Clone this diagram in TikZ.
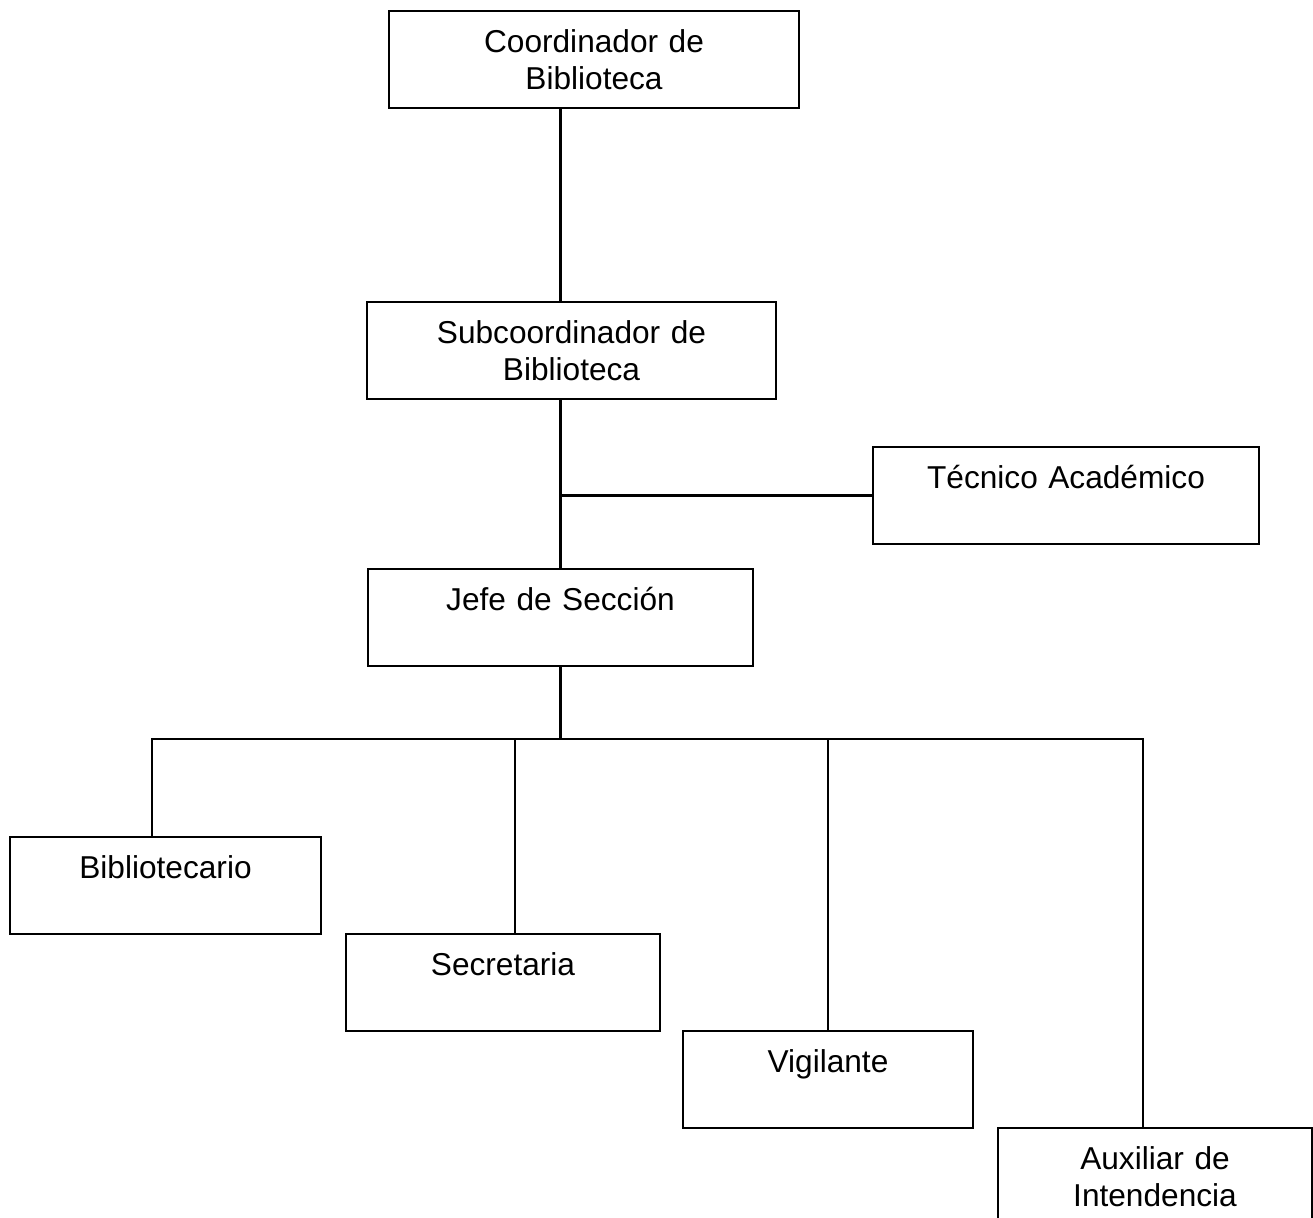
\documentclass[tikz,border=0pt]{standalone}
\usepackage{fontspec}
\setmainfont{Liberation Sans}
\usepackage{tikz}
\usetikzlibrary{positioning}
\tikzstyle{puesto} = [rectangle, draw = black, line width=1.2pt, inner sep=0pt, outer sep=0pt, align=center, text height=0.82cm, text depth=1.12cm, font=\fontsize{18}{21.2}\selectfont]
\tikzstyle{linea} = [-, line width=1.2pt]

\begin{document}
\begin{tikzpicture}
	\useasboundingbox (0,0) rectangle (26.26,-24.36);
	\clip (0,0) rectangle (26.26,-24.36);
	\node (coord) [puesto, text width=8.2cm] at (11.88,-1.19) {Coordinador de\\Biblioteca};
	\node (subcoord) [puesto, text width=8.18cm, below=3.88cm of coord, xshift=-0.45cm] {Subcoordinador de\\Biblioteca};
	\node (jefe) [puesto, text width=7.7cm, below=3.4cm of subcoord, xshift=-0.22cm] {Jefe de Sección};
	\node (tecnico) [puesto, text width=7.72cm, right=2.4cm of jefe, yshift=2.44cm] {Técnico Académico};
	\node (biblio) [puesto, text width=6.22cm, below=3.42cm of jefe, xshift=-7.9cm] {Bibliotecario};
	\node (secre) [puesto, text width=6.28cm, below right=0cm and 0.5cm of biblio] {Secretaria};
	\node (vigil) [puesto, text width=5.8cm, below right=0cm and 0.46cm of secre] {Vigilante};
	\node (auxil) [puesto, text width=6.28cm, below right=0cm and 0.5cm of vigil] {Auxiliar de\\Intendencia};

	\coordinate (bus) at ([yshift=-1.46cm]jefe.south);
	\coordinate (bibdrop) at ([xshift=-0.27cm]biblio.north);
	\coordinate (secdrop) at ([xshift=0.24cm]secre.north);
	\coordinate (auxdrop) at ([xshift=-0.24cm]auxil.north);

	\draw [linea](coord.south -| jefe.north) -- (subcoord.north -| jefe.north);
	\draw [linea](subcoord.south -| jefe.north) -- (jefe.north);
	\draw [linea](tecnico.west) -- (tecnico.west -| jefe.north);
	\draw [linea](jefe.south) -- (bus);
	\draw [linea](bibdrop) |- (bus) -| (auxdrop);
	\draw [linea](secdrop) -- (secdrop |- bus);
	\draw [linea](vigil.north) -- (vigil.north |- bus);
\end{tikzpicture}
\end{document}
